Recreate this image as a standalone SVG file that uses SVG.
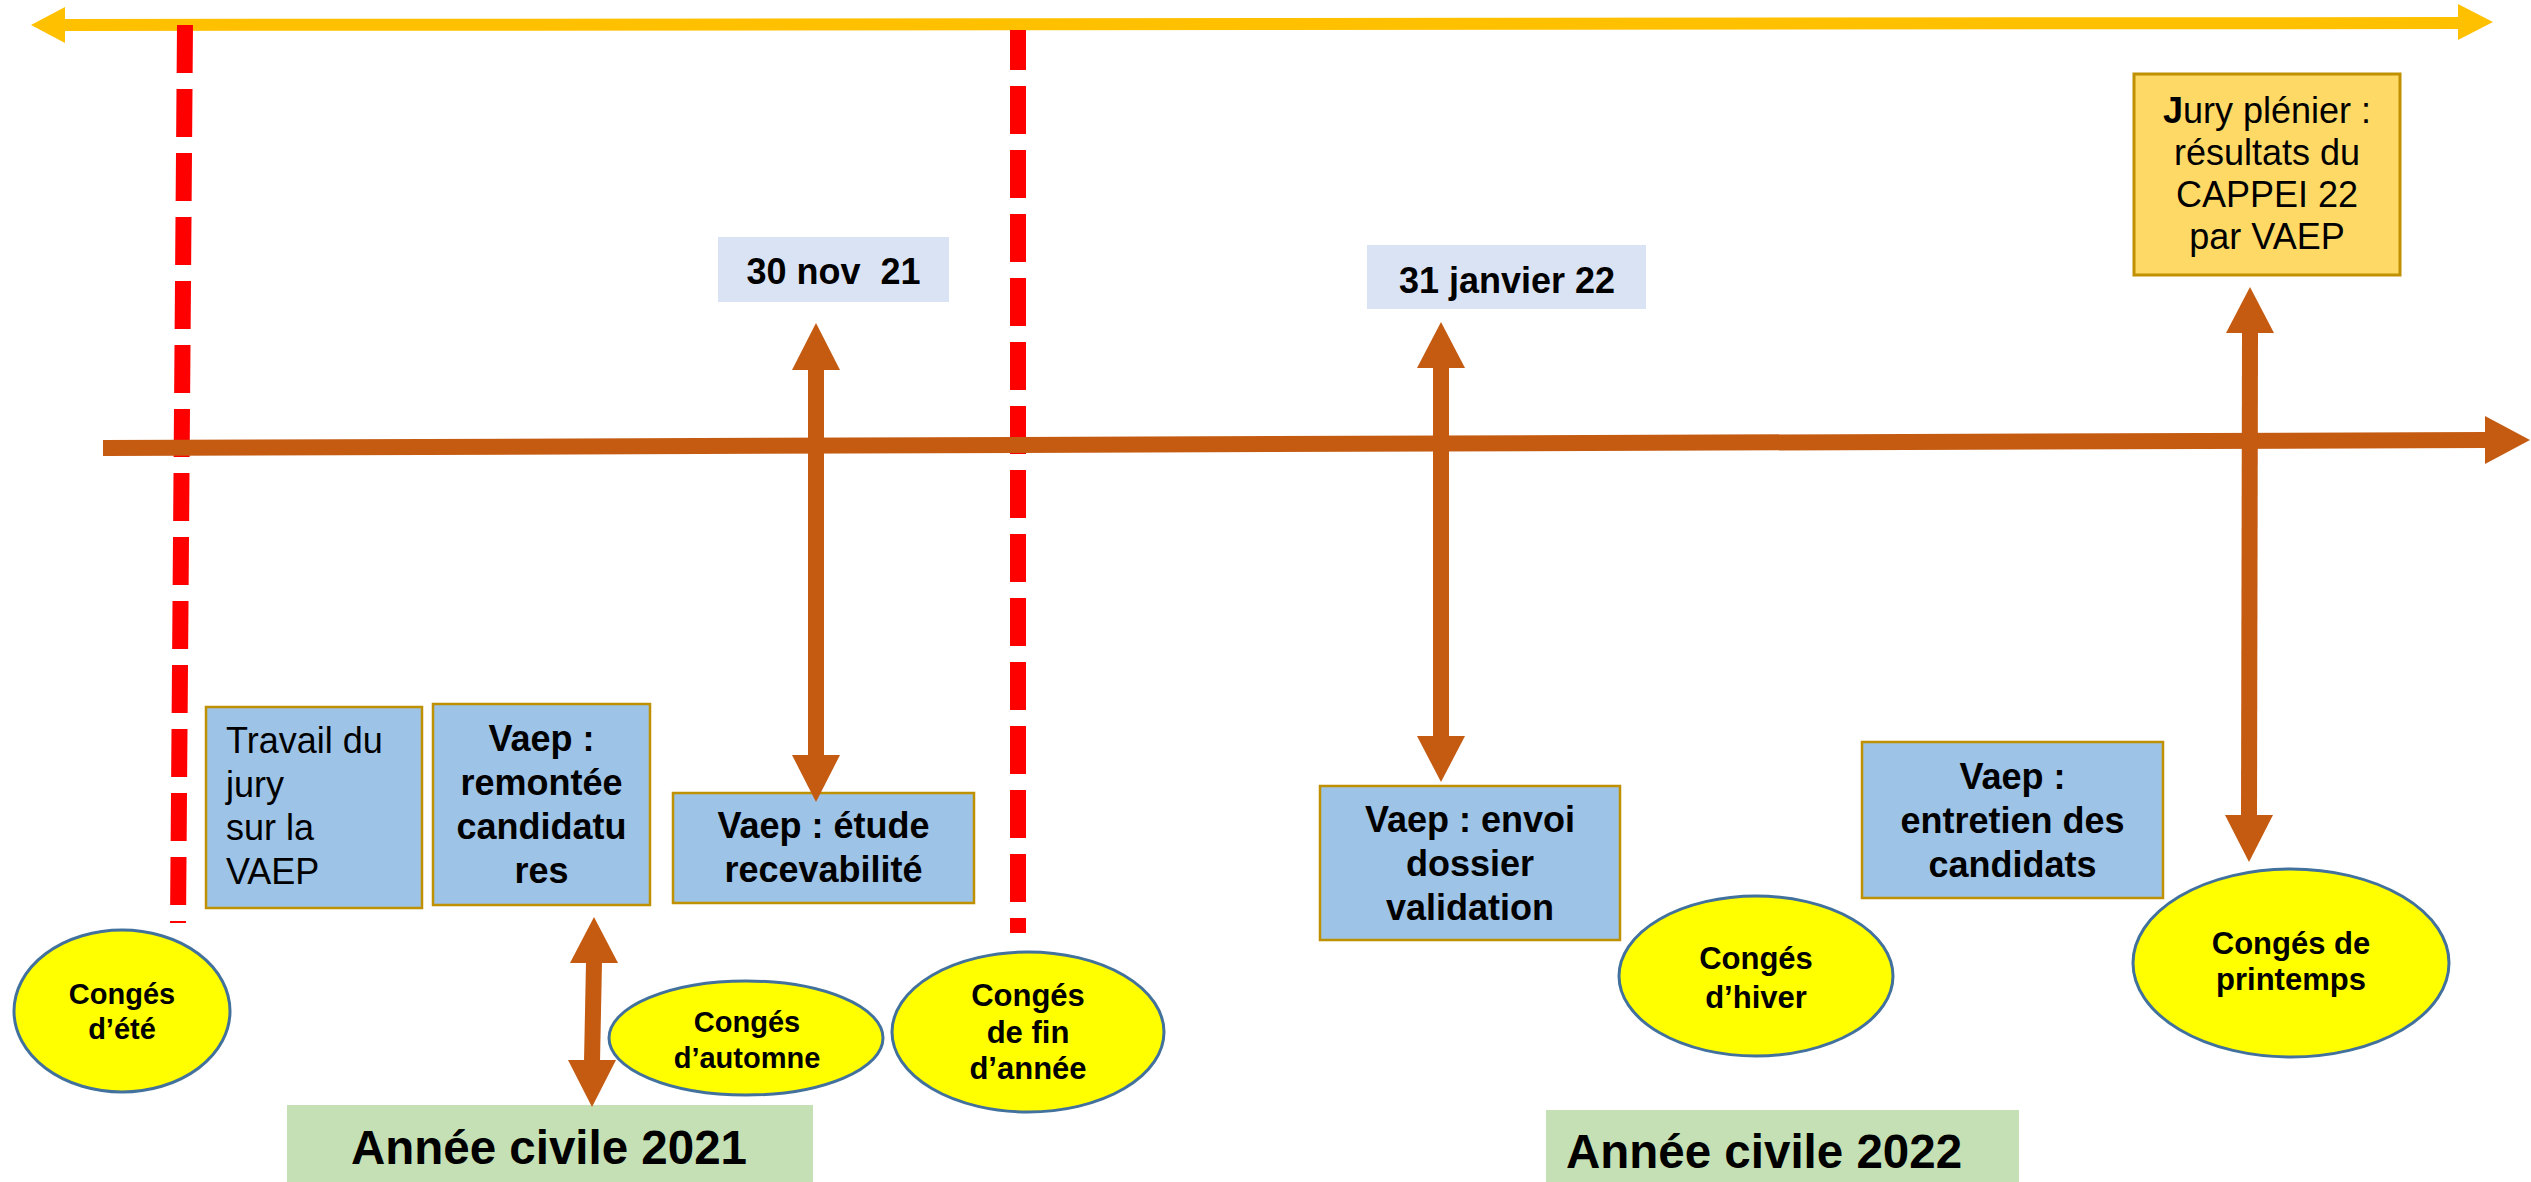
<svg xmlns="http://www.w3.org/2000/svg" width="2531" height="1182" viewBox="0 0 2531 1182">
<style>
  text { font-family: "Liberation Sans", Arial, sans-serif; fill: #000; }
  .bx { fill: #9DC3E6; stroke: #BF9000; stroke-width: 2.5; }
  .jury { fill: #FFD966; stroke: #BF9000; stroke-width: 3; }
  .date { fill: #DAE3F3; }
  .year { fill: #C5E0B4; }
  .ell { fill: #FFFF00; stroke: #41719C; stroke-width: 3; }
  .t36 { font-size: 36px; }
  .b36 { font-size: 36px; font-weight: bold; }
  .b46 { font-size: 47.5px; font-weight: bold; }
  .b29 { font-size: 29px; font-weight: bold; }
  .b31 { font-size: 31px; font-weight: bold; }
  .mid { text-anchor: middle; }
  .red { stroke: #FF0000; stroke-width: 16; fill: none; stroke-dasharray: 48 16; }
  .brown { stroke: #C55A11; stroke-width: 16; fill: none; }
  .brownhead { fill: #C55A11; }
  .yel { stroke: #FFC000; stroke-width: 12; fill: none; }
  .yelhead { fill: #FFC000; }
</style>

<g id="connectors">
  <line class="yel" x1="64" y1="25" x2="2459" y2="23"/>
  <polygon class="yelhead" points="65,7 31,25 65,43"/>
  <polygon class="yelhead" points="2458,4 2493,22 2458,40"/>
  <line class="red" x1="185" y1="25" x2="178" y2="923"/>
  <line class="red" x1="1018" y1="30" x2="1018" y2="933" stroke-dashoffset="8"/>
  <line class="brown" x1="103" y1="448" x2="2486" y2="440"/>
  <polygon class="brownhead" points="2485,416 2530,440 2485,464"/>
</g>

<g id="node-travail">
  <rect class="bx" x="206" y="707" width="216" height="201"/>
  <text class="t36" x="226" y="753">Travail du</text>
  <text class="t36" x="226" y="797">jury</text>
  <text class="t36" x="226" y="840">sur la</text>
  <text class="t36" x="226" y="884">VAEP</text>
</g>

<g id="node-remontee">
  <rect class="bx" x="433" y="704" width="217" height="201"/>
  <text class="b36 mid" x="541.5" y="751">Vaep :</text>
  <text class="b36 mid" x="541.5" y="795">remontée</text>
  <text class="b36 mid" x="541.5" y="839">candidatu</text>
  <text class="b36 mid" x="541.5" y="883">res</text>
</g>

<g id="node-etude">
  <rect class="bx" x="673" y="793" width="301" height="110"/>
  <text class="b36 mid" x="823.5" y="838">Vaep : étude</text>
  <text class="b36 mid" x="823.5" y="882">recevabilité</text>
</g>

<g id="node-envoi">
  <rect class="bx" x="1320" y="786" width="300" height="154"/>
  <text class="b36 mid" x="1470" y="832">Vaep : envoi</text>
  <text class="b36 mid" x="1470" y="876">dossier</text>
  <text class="b36 mid" x="1470" y="920">validation</text>
</g>

<g id="node-entretien">
  <rect class="bx" x="1862" y="742" width="301" height="156"/>
  <text class="b36 mid" x="2012.5" y="789">Vaep :</text>
  <text class="b36 mid" x="2012.5" y="833">entretien des</text>
  <text class="b36 mid" x="2012.5" y="877">candidats</text>
</g>

<g id="node-jury">
  <rect class="jury" x="2134" y="74" width="266" height="201"/>
  <text class="t36 mid" x="2267" y="123"><tspan font-weight="bold">J</tspan>ury plénier :</text>
  <text class="t36 mid" x="2267" y="165">résultats du</text>
  <text class="t36 mid" x="2267" y="207">CAPPEI 22</text>
  <text class="t36 mid" x="2267" y="249">par VAEP</text>
</g>

<g id="node-date-nov">
  <rect class="date" x="718" y="237" width="231" height="65"/>
  <text class="b36 mid" x="833.5" y="284">30 nov&#160; 21</text>
</g>

<g id="node-date-jan">
  <rect class="date" x="1367" y="245" width="279" height="64"/>
  <text class="b36 mid" x="1507" y="293">31 janvier 22</text>
</g>

<g id="node-conges-ete">
  <ellipse class="ell" cx="122" cy="1011" rx="108" ry="81"/>
  <text class="b29 mid" x="122" y="1004">Congés</text>
  <text class="b29 mid" x="122" y="1039">d’été</text>
</g>

<g id="node-conges-automne">
  <ellipse class="ell" cx="746" cy="1038" rx="137" ry="57"/>
  <text class="b29 mid" x="747" y="1032">Congés</text>
  <text class="b29 mid" x="747" y="1068">d’automne</text>
</g>

<g id="node-conges-fin">
  <ellipse class="ell" cx="1028" cy="1032" rx="136" ry="80"/>
  <text class="b31 mid" x="1028" y="1006">Congés</text>
  <text class="b31 mid" x="1028" y="1043">de fin</text>
  <text class="b31 mid" x="1028" y="1079">d’année</text>
</g>

<g id="node-conges-hiver">
  <ellipse class="ell" cx="1756" cy="976" rx="137" ry="80"/>
  <text class="b31 mid" x="1756" y="969">Congés</text>
  <text class="b31 mid" x="1756" y="1008">d’hiver</text>
</g>

<g id="node-conges-printemps">
  <ellipse class="ell" cx="2291" cy="963" rx="158" ry="94"/>
  <text class="b31 mid" x="2291" y="954">Congés de</text>
  <text class="b31 mid" x="2291" y="990">printemps</text>
</g>

<g id="node-annee-2021">
  <rect class="year" x="287" y="1105" width="526" height="77"/>
  <text class="b46 mid" x="549" y="1164">Année civile 2021</text>
</g>

<g id="node-annee-2022">
  <rect class="year" x="1546" y="1110" width="473" height="72"/>
  <text class="b46" x="1566" y="1168">Année civile 2022</text>
</g>

<g id="connectors-vertical">
  <line class="brown" x1="816" y1="369" x2="816" y2="757"/>
  <polygon class="brownhead" points="792,370 816,323 840,370"/>
  <polygon class="brownhead" points="792,755 816,802 840,755"/>
  <line class="brown" x1="1441" y1="367" x2="1441" y2="738"/>
  <polygon class="brownhead" points="1417,368 1441,322 1465,368"/>
  <polygon class="brownhead" points="1417,736 1441,782 1465,736"/>
  <line class="brown" x1="2250" y1="332" x2="2249" y2="817"/>
  <polygon class="brownhead" points="2226,333 2250,287 2274,333"/>
  <polygon class="brownhead" points="2225,815 2249,862 2273,815"/>
  <line class="brown" x1="594" y1="962" x2="592" y2="1062"/>
  <polygon class="brownhead" points="570,963 594,917 618,963"/>
  <polygon class="brownhead" points="568,1060 592,1107 616,1060"/>
</g>
</svg>
